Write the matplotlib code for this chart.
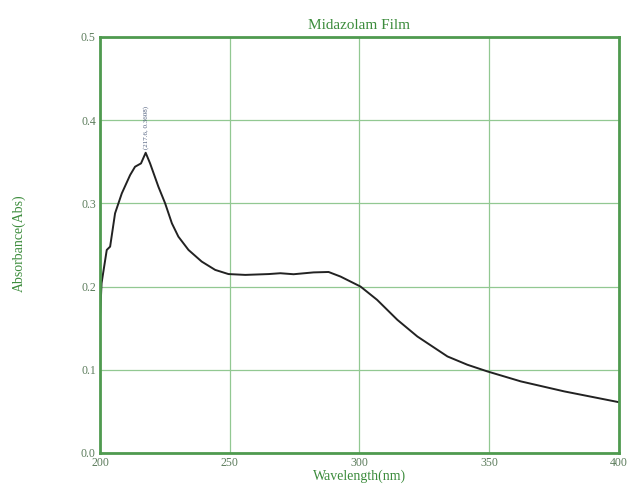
#! /usr/bin/env python3

import matplotlib
matplotlib.use("Agg")
import matplotlib.pyplot as plt

# UV spectrum
wavelength = [200.0, 200.6, 202.6, 203.9, 205.8, 208.4, 211.6, 213.5, 215.8, 217.6,
              219.3, 222.5, 225.1, 227.7, 230.2, 234.1, 239.2, 244.4, 249.5, 256.0,
              265.0, 269.5, 274.6, 282.3, 288.1, 292.7, 300.4, 306.8, 314.6, 322.3,
              333.9, 341.6, 349.3, 362.2, 378.9, 400.0]
absorbance = [0.163, 0.204, 0.244, 0.248, 0.288, 0.312, 0.334, 0.344, 0.348, 0.3608,
              0.348, 0.320, 0.300, 0.276, 0.260, 0.244, 0.230, 0.220, 0.215, 0.214,
              0.215, 0.216, 0.2148, 0.217, 0.2175, 0.212, 0.200, 0.184, 0.160, 0.140,
              0.116, 0.106, 0.098, 0.086, 0.074, 0.061]
peak = (217.6, 0.3608)
xticks = [200, 250, 300, 350, 400]
yticks = [0.0, 0.1, 0.2, 0.3, 0.4, 0.5]

plt.rcParams['font.family'] = ['Liberation Serif', 'DejaVu Serif']

fig = plt.figure(figsize=(6.29, 4.86), dpi=100)
ax = fig.add_axes([0.159, 0.068, 0.825, 0.856])

ax.plot(wavelength, absorbance, color='#222222', linewidth=1.4)
ax.text(peak[0], peak[1] + 0.004, "(%.1f, %.4f)" % peak, rotation=90,
        ha='center', va='bottom', fontsize=5, color='#4a5a7a')

ax.set_xlim(200, 400)
ax.set_ylim(0, 0.5)
ax.set_xticks(xticks)
ax.set_yticks(yticks)
ax.set_xticklabels([str(t) for t in xticks])
ax.set_yticklabels(["%.1f" % t for t in yticks])
ax.grid(True, color='#92c892', linewidth=0.9)
ax.tick_params(length=0, labelsize=8.5, labelcolor='#5c7c5c', pad=3)
for s in ax.spines.values():
    s.set_color('#4f9a4f')
    s.set_linewidth(2)

ax.set_title("Midazolam Film", fontsize=11, color='#3c8c3c', pad=6)
ax.set_xlabel("Wavelength(nm)", fontsize=10, color='#3c8c3c', labelpad=0)
fig.text(0.03, 0.5, "Absorbance(Abs)", rotation=90, ha='center', va='center',
         fontsize=10, color='#3c8c3c')

fig.savefig("out.png", dpi=100)
